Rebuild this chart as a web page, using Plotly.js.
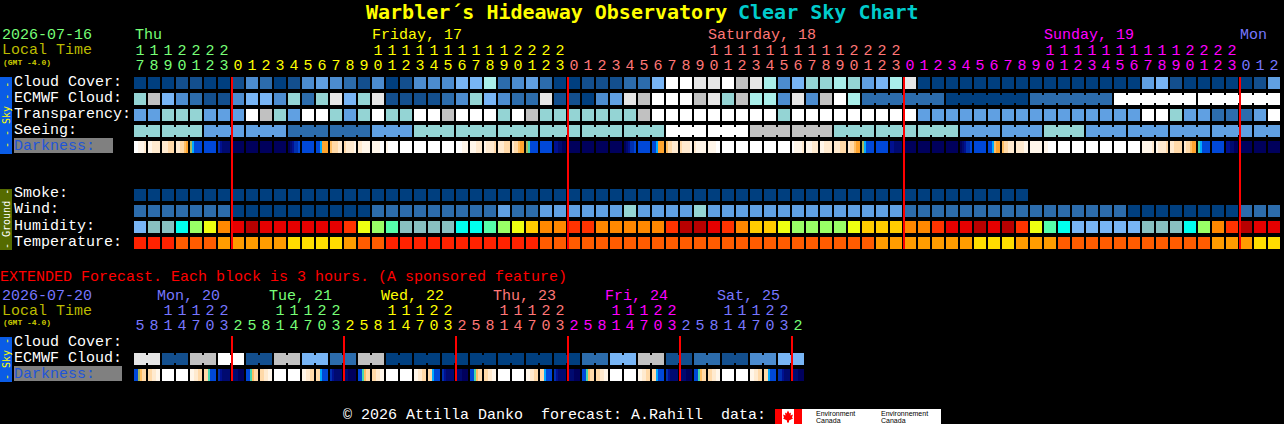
<!DOCTYPE html>
<html>
<head>
<meta charset="utf-8">
<script src="https://cdn.plot.ly/plotly-3.0.1.min.js"></script>
<style>html,body{margin:0;padding:0;background:#000;overflow:hidden}</style>
</head>
<body>
<div id="chart" style="width:1284px;height:424px"></div>
<script>
// ---- values: each letter is one forecast block's colour level ----
const cloudCover   = "aaabbaabdc"+"abdedcbdab"+"dddffhcdec"+"aabbbccfii"+"jjikjhdfgg"+"hgefhjaaaa"+"aaaaaaaaaa"+"aaefbaaaaa"+"be";
const ecmwfCloud   = "gkfdcbbdff"+"dgcgjfgjbb"+"bbcdgfdccj"+"bbadejkiii"+"kjgkhhdjdk"+"ihccccccaa"+"aaaacccccc"+"iiiiiiiiii"+"ii";
const transparency = "eegggeeeik"+"geiigegigg"+"iikiiigikg"+"ggggggkiii"+"iiiiiigiii"+"iiiiiieeee"+"eeeeeeeeee"+"eeiigeeccc"+"ei";
const seeing       = "gggggeeeee"+"eccccccee"+"e"+"gggggggggg"+"ggggggggii"+"iiiikkkkkk"+"ggggggggge"+"eeeeegggee"+"eeeeeeeeee"+"ee";
const smoke        = "aaaaaaaaaa"+"aaaaaaaaaa"+"aaaaaaaaaa"+"aaaaaaaaaa"+"aaaaaaaaaa"+"aaaaaaaaaa"+"aaaa";
const wind         = "cccccccaaa"+"aaaaaaaccc"+"ccccccecce"+"eeeeegeeee"+"geeeeeeeee"+"eeeeeccccc"+"cccccccccc"+"caaaaaaaac"+"cc";
const humidity     = "frrCLYOEDE"+"EEEEERYLMr"+"rrrCCMLYGO"+"ORROOOOORD"+"DEROGGYLLL"+"LYGGGOOREE"+"DEDRYMCfff"+"ffrrrCLORD"+"EE";
const temperature  = "TTTUUUVVVV"+"VXXXXVUUTT"+"TTTTTTTTTU"+"UUUUUUUUUU"+"UUUUUUUUUU"+"UUUVVVVVVV"+"XXXVVVUUUU"+"UUUUUUUVVV"+"XX";
const darkness = ["wwxxxy","xxyyyy","yyyzzz","yyzzqo","gcbbbb","bbbbbb","mndddd","eeeeee","eeeeee","eeeeee",
  "eeeeee","ednmmb","bbbbbb","bbcooo","qzzzyy","zyyyyx","yyxxxx","xxxxww","xwwwww","wwwwww",
  "wwwwww","wwwwww","wwwwww","wwwxxx","xxxyyy","xyyyyz","yyyzzz","yzzqoo","gtbbbb","bbbbbb",
  "nnddee","eeeeee","eeeeee","eeeeee","eeeeee","ednmmb","bbbbbb","bbcooo","qzzyyy","zyyyyx",
  "yxxxxx","xxxxww","wwwwww","wwwwww","wwwwww","wwwwww","wwwwww","wxxxxy","xxxyyy","xxyyyy",
  "yyyzzz","yzzqoo","gcbbbb","bbbbbb","nndddd","eeeeee","eeeeee","eeeeee","eeeeee","ednmmb",
  "bbbbbb","bbcqoo","qzzyyy","yyyyxx","xxxxxx","xxwwww","wwwwww","wwwwww","wwwwww","wwwwww",
  "wwwwww","wwwwww","xxxxxy","xyyyyz","yyzzzz","yzzqoo","tcbbbb","bbbbbb","nnddee","eeeeee",
  "eeeeee","eeeeee"];
const extEcmwf = "jjbbkkiibbkkffcckkaaaaaaaaaaaaaaccffkkbbccbbddff";
const extDarkness = ["bbgqzz","zzyyxx","wwwwww","wwwwww","xxyyzz","zztbbb","mndddd","dddeee",
  "bbtqzz","zzyyxx","wwwwww","wwwwww","xxyyzz","zzcbbb","mndddd","ddeeee",
  "bbtqzz","zzyyxx","wwwwww","wwwwww","xxyyzz","zzcbbb","mndddd","dddeee",
  "bbtqzz","zzyyxx","wwwwww","wwwwww","xxyyzz","zzcbbb","mndddd","dddeee",
  "bbtqzz","zzyyxx","wwwwww","wwwwww","xxyyzz","zzcbbb","mndddd","dddeee",
  "bbtqzz","zzyyxx","wwwwww","wwwwww","xxyyzz","zzcbbb","mmnddd","dddeee"];
const hours = [17,18,19,20,21,22,23,
  0,1,2,3,4,5,6,7,8,9,10,11,12,13,14,15,16,17,18,19,20,21,22,23,
  0,1,2,3,4,5,6,7,8,9,10,11,12,13,14,15,16,17,18,19,20,21,22,23,
  0,1,2,3,4,5,6,7,8,9,10,11,12,13,14,15,16,17,18,19,20,21,22,23,
  0,1,2];
const extHours = [5,8,11,14,17,20,23,
  2,5,8,11,14,17,20,23, 2,5,8,11,14,17,20,23, 2,5,8,11,14,17,20,23,
  2,5,8,11,14,17,20,23, 2,5,8,11,14,17,20,23, 2];
const dayColors    = ["#77ff77","#ffff00","#ff7777","#ff00ff","#7777ff"];
const extDayColors = ["#7777ff","#77ff77","#ffff00","#ff7777","#ff00ff","#7777ff","#77ff77"];
const midnights    = [7,31,55,79];
const extMidnights = [7,15,23,31,39,47];
const dayLabels = [["Thu",135,0],["Friday, 17",372,1],["Saturday, 18",708,2],["Sunday, 19",1044,3],["Mon",1240,4]];
const extDayLabels = [["Mon, 20",157,0],["Tue, 21",269,1],["Wed, 22",381,2],["Thu, 23",493,3],["Fri, 24",605,4],["Sat, 25",717,5]];

// ---- colours ----
const blockPalette = {a:"#003f7f",b:"#134f8e",c:"#2c6cac",d:"#4c8ccf",e:"#60a0e2",f:"#78b5f5",g:"#94d4d4",h:"#a9eeea",
  i:"#ffffff",j:"#e6e6e6",k:"#c1c1c1",r:"#88c0c0",C:"#00ffee",L:"#99ff66",Y:"#eeff11",M:"#55ffaa",G:"#ffcc00",O:"#ff8800",
  R:"#ff3300",E:"#e60000",D:"#b80000",T:"#ff2200",U:"#ff5c00",V:"#ff9c00",X:"#ffdd00"};
const darkPalette = {w:"#ffffff",x:"#fff6ea",y:"#ffeacf",z:"#ffd9a8",q:"#ffbe63",o:"#ffa42e",g:"#a8b860",t:"#44d8b0",
  c:"#00aaff",b:"#0048d8",m:"#0030b0",n:"#001090",d:"#000a70",e:"#00005c"};

function scaleOf(p){const k=Object.keys(p),n=k.length,s=[],idx={};
  k.forEach((c,j)=>{idx[c]=j+0.5;s.push([j/n,p[c]],[(j+1)/n,p[c]]);});
  return {idx,colorscale:s,zmin:0,zmax:n};}
const B=scaleOf(blockPalette), K=scaleOf(darkPalette);

// pixel <-> axis unit: one column = 14 px, one row = 16 px
const xu=p=>(p-140)/14, yu=p=>(p-83)/16;
const codes=(s,n)=>{const o=[];for(let i=0;i<n;i++){o.push(i<s.length?B.idx[s[i]]:null);}return o;};

const base={type:"heatmap",showscale:false,hoverinfo:"skip",zsmooth:false};
function blocks(rows,y0,n){return Object.assign({},base,{z:rows.map(r=>codes(r,n)),x0:0,dx:1,y0:y0,dy:1,xgap:2,ygap:4,
  colorscale:B.colorscale,zmin:B.zmin,zmax:B.zmax});}
function joins(row,y0,isJoined){const z=[];for(let i=0;i<row.length-1;i++){z.push(isJoined(i)&&row[i]===row[i+1]?B.idx[row[i]]:null);}
  return Object.assign({},base,{z:[z],x0:0.5,dx:1,y0:y0,dy:1,xgap:0,ygap:8,colorscale:B.colorscale,zmin:B.zmin,zmax:B.zmax});}
function dark(list,y0){const z=[];list.forEach(c=>{for(const ch of c)z.push(K.idx[ch]);z.push(null);});
  return Object.assign({},base,{z:[z],x0:-5/14,dx:1/7,y0:y0,dy:1,xgap:0,ygap:4,colorscale:K.colorscale,zmin:K.zmin,zmax:K.zmax});}

function redLines(cols,top,bottom){const x=[],y=[];cols.forEach(c=>{x.push(c-3/7,c-3/7,null);y.push(yu(top),yu(bottom),null);});
  return {type:"scatter",mode:"lines",x,y,line:{color:"#ff0000",width:2},hoverinfo:"skip",showlegend:false};}

function colorsFor(n,cols,pal){const o=[];for(let i=0;i<n;i++){let d=0;cols.forEach(c=>{if(i>=c)d++;});o.push(pal[d]);}return o;}
function digits(h,cols,pal,yT,yU){const col=colorsFor(h.length,cols,pal);
  const xs=h.map((_,i)=>i);
  const tx=[],ty=[],tt=[],tc=[];
  h.forEach((v,i)=>{if(v>=10){tx.push(i);ty.push(yu(yT));tt.push(String(Math.floor(v/10)));tc.push(col[i]);}});
  return [{type:"scatter",mode:"text",x:tx,y:ty,text:tt,textposition:"middle center",textfont:{family:"Liberation Mono",size:15,color:tc},hoverinfo:"skip"},
          {type:"scatter",mode:"text",x:xs,y:h.map(()=>yu(yU)),text:h.map(v=>String(v%10)),textposition:"middle center",textfont:{family:"Liberation Mono",size:15,color:col},hoverinfo:"skip"}];}

const data=[
  joins(ecmwfCloud,1,i=>i>=52&&(i+1-52)%6!==0),
  joins(seeing,3,i=>(i+1)%3!==2),
  blocks([cloudCover,ecmwfCloud,transparency,seeing],0,82),
  dark(darkness,4),
  blocks([smoke,wind,humidity,temperature],7,82),
  joins(extEcmwf,17.25,i=>i%2===0),
  blocks([extEcmwf],17.25,48),
  dark(extDarkness,18.25),
  redLines(midnights,77,249),
  redLines(extMidnights,336,381),
  ...digits(hours,midnights,dayColors,51,66),
  ...digits(extHours,[7,15,23,31,39,47],extDayColors,311,326)
];

// ---- text and furniture ----
const MONO="Liberation Mono", SANS="Liberation Sans";
const ann=(t,x,y,color,opt)=>Object.assign({text:t,x:x/1284,y:1-y/424,xref:"paper",yref:"paper",xanchor:"left",yanchor:"middle",
  showarrow:false,borderpad:0,borderwidth:0,font:{family:MONO,size:15,color}},opt||{});
const rect=(x0,y0,x1,y1,c)=>({type:"rect",xref:"paper",yref:"paper",x0:x0/1284,x1:x1/1284,y0:1-y0/424,y1:1-y1/424,fillcolor:c,line:{width:0},layer:"below"});
const TITLE={font:{family:"DejaVu Sans Mono",size:20,weight:700,color:"#ffff00"}};
const annotations=[
  ann("Warbler\u00B4s Hideaway Observatory",366,12,"#ffff00",TITLE),
  ann("Clear Sky Chart",738,12,"#00cccc",{font:{family:"DejaVu Sans Mono",size:20,weight:700,color:"#00cccc"}}),
  ann("2026-07-16",2,36,"#77ff77"),
  ann("Local Time",2,51,"#bbbb00"),
  ann("(GMT -4.0)",3,62,"#cccc00",{font:{family:MONO,size:8,weight:700,color:"#cccc00"}}),
  ann("Cloud Cover:",14,82,"#ffffff"),
  ann("ECMWF Cloud:",14,98,"#ffffff"),
  ann("Transparency:",14,114,"#ffffff"),
  ann("Seeing:",14,130,"#ffffff"),
  ann("Darkness:",14,146,"#1f55d8"),
  ann("Smoke:",14,194,"#ffffff"),
  ann("Wind:",14,210,"#ffffff"),
  ann("Humidity:",14,226,"#ffffff"),
  ann("Temperature:",14,242,"#ffffff"),
  ann("EXTENDED Forecast. Each block is 3 hours. (A sponsored feature)",0,277,"#ff0000"),
  ann("2026-07-20",2,296,"#7777ff"),
  ann("Local Time",2,311,"#bbbb00"),
  ann("(GMT -4.0)",3,322,"#cccc00",{font:{family:MONO,size:8,weight:700,color:"#cccc00"}}),
  ann("Cloud Cover:",14,342,"#ffffff"),
  ann("ECMWF Cloud:",14,358,"#ffffff"),
  ann("Darkness:",14,374,"#1f55d8"),
  ann("\u00A9 2026 Attilla Danko\u00A0\u00A0forecast: A.Rahill\u00A0\u00A0data:",343,415.5,"#ffffff"),
  ann("Environment",816,413,"#000",{font:{family:SANS,size:7,color:"#000"}}),
  ann("Canada",816,420,"#000",{font:{family:SANS,size:7,color:"#000"}}),
  ann("Environnement",881,413,"#000",{font:{family:SANS,size:7,color:"#000"}}),
  ann("Canada",881,420,"#000",{font:{family:SANS,size:7,color:"#000"}}),
  ann("- - Sky - -",6,115,"#ffff00",{xanchor:"center",textangle:-90,font:{family:"DejaVu Sans Mono",size:10,color:"#ffff00"}}),
  ann("- Ground -",6,219,"#ffffff",{xanchor:"center",textangle:-90,font:{family:"DejaVu Sans Mono",size:10,color:"#ffffff"}}),
  ann("- Sky -",6,359,"#ffff00",{xanchor:"center",textangle:-90,font:{family:"DejaVu Sans Mono",size:10,color:"#ffff00"}})
];
dayLabels.forEach(d=>annotations.push(ann(d[0],d[1],36,dayColors[d[2]])));
extDayLabels.forEach(d=>annotations.push(ann(d[0],d[1],296,extDayColors[d[2]])));

const leaf=[[0,-6],[1.5,-3],[3,-4],[2.5,-1],[5,-2],[4,1],[5,2],[1,4],[1,6],[-1,6],[-1,4],[-5,2],[-4,1],[-5,-2],[-2.5,-1],[-3,-4],[-1.5,-3]];
const leafPath="M"+leaf.map(p=>(xu(788+p[0]))+","+(yu(416.5+p[1]))).join("L")+"Z";
const shapes=[
  rect(0,77,12,154,"#0a5ce6"),
  rect(0,189,12,250,"#556b00"),
  rect(0,337,12,382,"#0a5ce6"),
  rect(14,138,113,153,"#808080"),
  rect(14,366,122,381,"#808080"),
  rect(775,409,941,424,"#ffffff"),
  rect(775,409,782,424,"#ff0000"),
  rect(794,409,802,424,"#ff0000"),
  {type:"path",xref:"x",yref:"y",path:leafPath,fillcolor:"#ff0000",line:{width:0},layer:"above"}
];
const axisBase={visible:false,fixedrange:true,showgrid:false,zeroline:false};
Plotly.newPlot("chart",data,{
  width:1284,height:424,margin:{l:0,r:0,t:0,b:0,pad:0},
  paper_bgcolor:"#000",plot_bgcolor:"#000",showlegend:false,
  xaxis:Object.assign({},axisBase,{range:[xu(0),xu(1284)]}),
  yaxis:Object.assign({},axisBase,{range:[yu(424),yu(0)]}),
  annotations,shapes
},{staticPlot:true,displayModeBar:false});
</script>
</body>
</html>
